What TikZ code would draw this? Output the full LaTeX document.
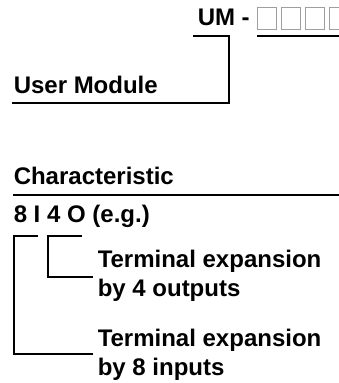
\documentclass[tikz,border=0pt]{standalone}
\usepackage{fontspec}
\setmainfont{Liberation Sans}
\usepackage{tikz}
\usepackage{xcolor}

\begin{document}
\begin{tikzpicture}[x=1pt,y=-1pt,line width=1.5pt,
  every node/.style={font=\fontsize{24}{29}\selectfont\bfseries,inner sep=0pt,anchor=base west,align=left},
  slotbox/.style={draw=gray!75,line width=0.9pt}]
\useasboundingbox (0,0) rectangle (339,383);
\node (um) at (197,25) {UM -};
\draw[slotbox] (257.5,7.5) rectangle (276.5,29) coordinate (slotA);
\draw[slotbox] (281.5,7.5) rectangle (300.5,29);
\draw[slotbox] (305.5,7.5) rectangle (324.5,29);
\draw[slotbox] (329.5,7.5) rectangle (348.5,29);
\coordinate (slotL) at (257,36);
\coordinate (slotR) at (339,36);
\draw (slotL) -- (slotR);
\node (usermod) at (13,93) {User Module};
\coordinate (umL) at (193,36);
\coordinate (umR) at (229,36);
\coordinate (umB) at (229,103);
\coordinate (umE) at (12,103);
\draw (umL) -- (umR) -- (umB) -- (umE);
\node (charac) at (13,184) {Characteristic};
\coordinate (charL) at (13,195);
\coordinate (charR) at (339,195);
\draw (charL) -- (charR);
\node (example) at (13,222) {8 I 4 O (e.g.)};
\node (outs) at (97,296) {Terminal expansion\\by 4 outputs};
\node (ins) at (97,375) {Terminal expansion\\by 8 inputs};
\coordinate (inT) at (38,236);
\coordinate (inC) at (14,236);
\coordinate (inB) at (14,354);
\coordinate (inE) at (93,354);
\draw (inT) -- (inC) -- (inB) -- (inE);
\coordinate (outT) at (82,236);
\coordinate (outC) at (48,236);
\coordinate (outB) at (48,277);
\coordinate (outE) at (93,277);
\draw (outT) -- (outC) -- (outB) -- (outE);
\end{tikzpicture}
\end{document}
